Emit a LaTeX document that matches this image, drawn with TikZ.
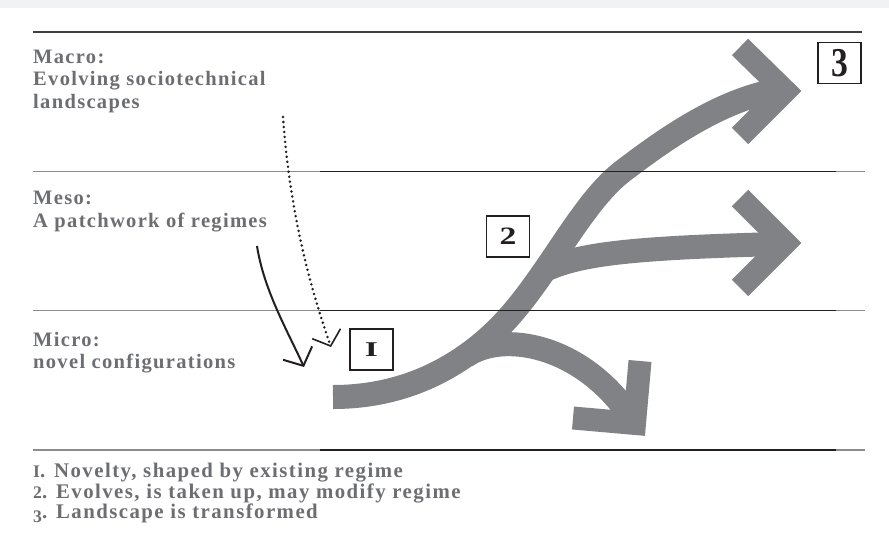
\documentclass[tikz,border=0pt]{standalone}
\usepackage{fontspec}
\setmainfont{Liberation Serif}
\newfontfamily\labelfont{Liberation Serif}[LetterSpace=6.5]
\newfontfamily\keyfont{Liberation Serif}[LetterSpace=7]
\usepackage{graphicx}
\usetikzlibrary{arrows.meta}

\definecolor{bandgrey}{HTML}{F1F2F4}
\definecolor{textgrey}{HTML}{6D6E71}
\definecolor{flowgrey}{HTML}{808285}
\definecolor{ruleblack}{HTML}{231F20}
\definecolor{rulegrey}{HTML}{8C8C8C}
\definecolor{ruledark}{HTML}{3F3F40}

% old-style figure look: small figure on the baseline, or dropped below it
\newcommand\lowfig[1]{\scalebox{0.85}{#1}}
\newcommand\dropfig[1]{\raisebox{-4.5pt}{\scalebox{0.85}{#1}}}

\begin{document}
\begin{tikzpicture}[x=1pt,y=-1pt,
  lbl/.style={font=\labelfont\bfseries\fontsize{20.5}{22.5}\selectfont,
    text=textgrey, align=left, inner sep=0pt, anchor=base west},
  notes/.style={lbl, font=\keyfont\bfseries\fontsize{20.8}{19.2}\selectfont},
  topline/.style={line width=1.3pt, draw=ruledark},
  ruleblk/.style={line width=1.3pt, draw=ruleblack},
  rulegry/.style={line width=1.3pt, draw=rulegrey},
  shaft/.style={draw=flowgrey, line width=24pt, line cap=butt},
  chevron/.style={draw=flowgrey, line width=23pt, line cap=butt, line join=miter, miter limit=10},
  numbox/.style={draw=ruleblack, line width=1.2pt, minimum width=43pt, minimum height=41pt,
    inner sep=0pt, text=ruleblack},
  influence/.style={draw=ruleblack, line width=2pt,
    -{Straight Barb[length=14pt, width=32pt, line width=2pt]}},
  pressure/.style={draw=ruleblack, line width=2.8pt, line cap=round, dash pattern=on 0pt off 5pt,
    -{Straight Barb[length=13pt, width=30pt, line width=1.6pt]}},
]
% canvas and top band
\fill[white] (0,0) rectangle (889,541);
\fill[bandgrey] (0,0) rectangle (889,7.5);
\useasboundingbox (0,0) rectangle (889,541);

% ---- flows: trunk with three branches ----
\coordinate (t0) at (333,397);
\coordinate (t1) at (515,310);
\coordinate (t2) at (623,171);
\coordinate (t3) at (778,90);
\draw[shaft] (t0) .. controls (415,397) and (475,358) .. (t1)
                  .. controls (555,262) and (585,200) .. (t2)
                  .. controls (665,139) and (720,100) .. (t3);
\coordinate (hA) at (785,91);
\coordinate (hA1) at (740,47);
\coordinate (hA2) at (740,136);
\draw[chevron] (hA1) -- (hA) -- (hA2);

\coordinate (m0) at (545,270);
\coordinate (m1) at (778,244);
\draw[shaft] (m0) .. controls (580,254) and (630,248) .. (m1);
\coordinate (hB) at (785,243);
\coordinate (hB1) at (740,198);
\coordinate (hB2) at (740,288);
\draw[chevron] (hB1) -- (hB) -- (hB2);

% the lower branch leaves the trunk along its own direction
\coordinate (b0) at (466,356);
\coordinate (b1) at (628,413);
\draw[shaft] (b0) .. controls (503,330.4) and (580,345) .. (b1);
\coordinate (hC) at (634.5,423.4);
\coordinate (hC1) at (573,418);
\coordinate (hC2) at (640,361);
\draw[chevron] (hC1) -- (hC) -- (hC2);

% ---- level rules ----
\coordinate (top0) at (33,32);
\coordinate (top1) at (862,32);
\draw[topline] (top0) -- (top1);
\foreach \yy/\nm in {171.5/a, 310.5/b, 450/c} {
  \coordinate (r\nm0) at (33,\yy);
  \coordinate (r\nm1) at (320,\yy);
  \coordinate (r\nm2) at (836,\yy);
  \coordinate (r\nm3) at (865,\yy);
  \draw[rulegry] (r\nm0) -- (r\nm1);
  \draw[ruleblk] (r\nm1) -- (r\nm2);
  \draw[rulegry] (r\nm2) -- (r\nm3);
}

% ---- level labels (anchored on the baseline of their last line) ----
\node[lbl] (macro) at (33,108.3) {Macro:\\Evolving sociotechnical\\landscapes};
\node[lbl] (meso) at (33,227) {Meso:\\A patchwork of regimes};
\node[lbl] (micro) at (33,368.5) {Micro:\\novel configurations};

% ---- numbered boxes ----
\node[numbox, font=\bfseries\fontsize{21}{21}\selectfont] (n1) at (371.5,349.5) {\scalebox{1.6}[1]{I}};
\node[numbox, font=\bfseries\fontsize{25}{25}\selectfont] (n2) at (508,236.5) {\scalebox{1.35}[1]{2}};
\node[numbox, font=\bfseries\fontsize{41}{41}\selectfont] (n3) at (839.5,63) {\scalebox{0.82}[1]{3}};

% ---- downward influences ----
\coordinate (d0) at (283,117);
\coordinate (d1) at (331,347);
\draw[pressure] (d0) .. controls (290,215) and (311,290) .. (d1);
\coordinate (s0) at (257,246);
\coordinate (s1) at (304,367);
\draw[influence] (s0) .. controls (264,290) and (286,328) .. (s1);

% ---- key ----
\node[notes] (key) at (33,518.3) {\lowfig{I}. Novelty, shaped by existing regime\\
  \lowfig{2}. Evolves, is taken up, may modify regime\\
  \dropfig{3}. Landscape is transformed};
\end{tikzpicture}
\end{document}
